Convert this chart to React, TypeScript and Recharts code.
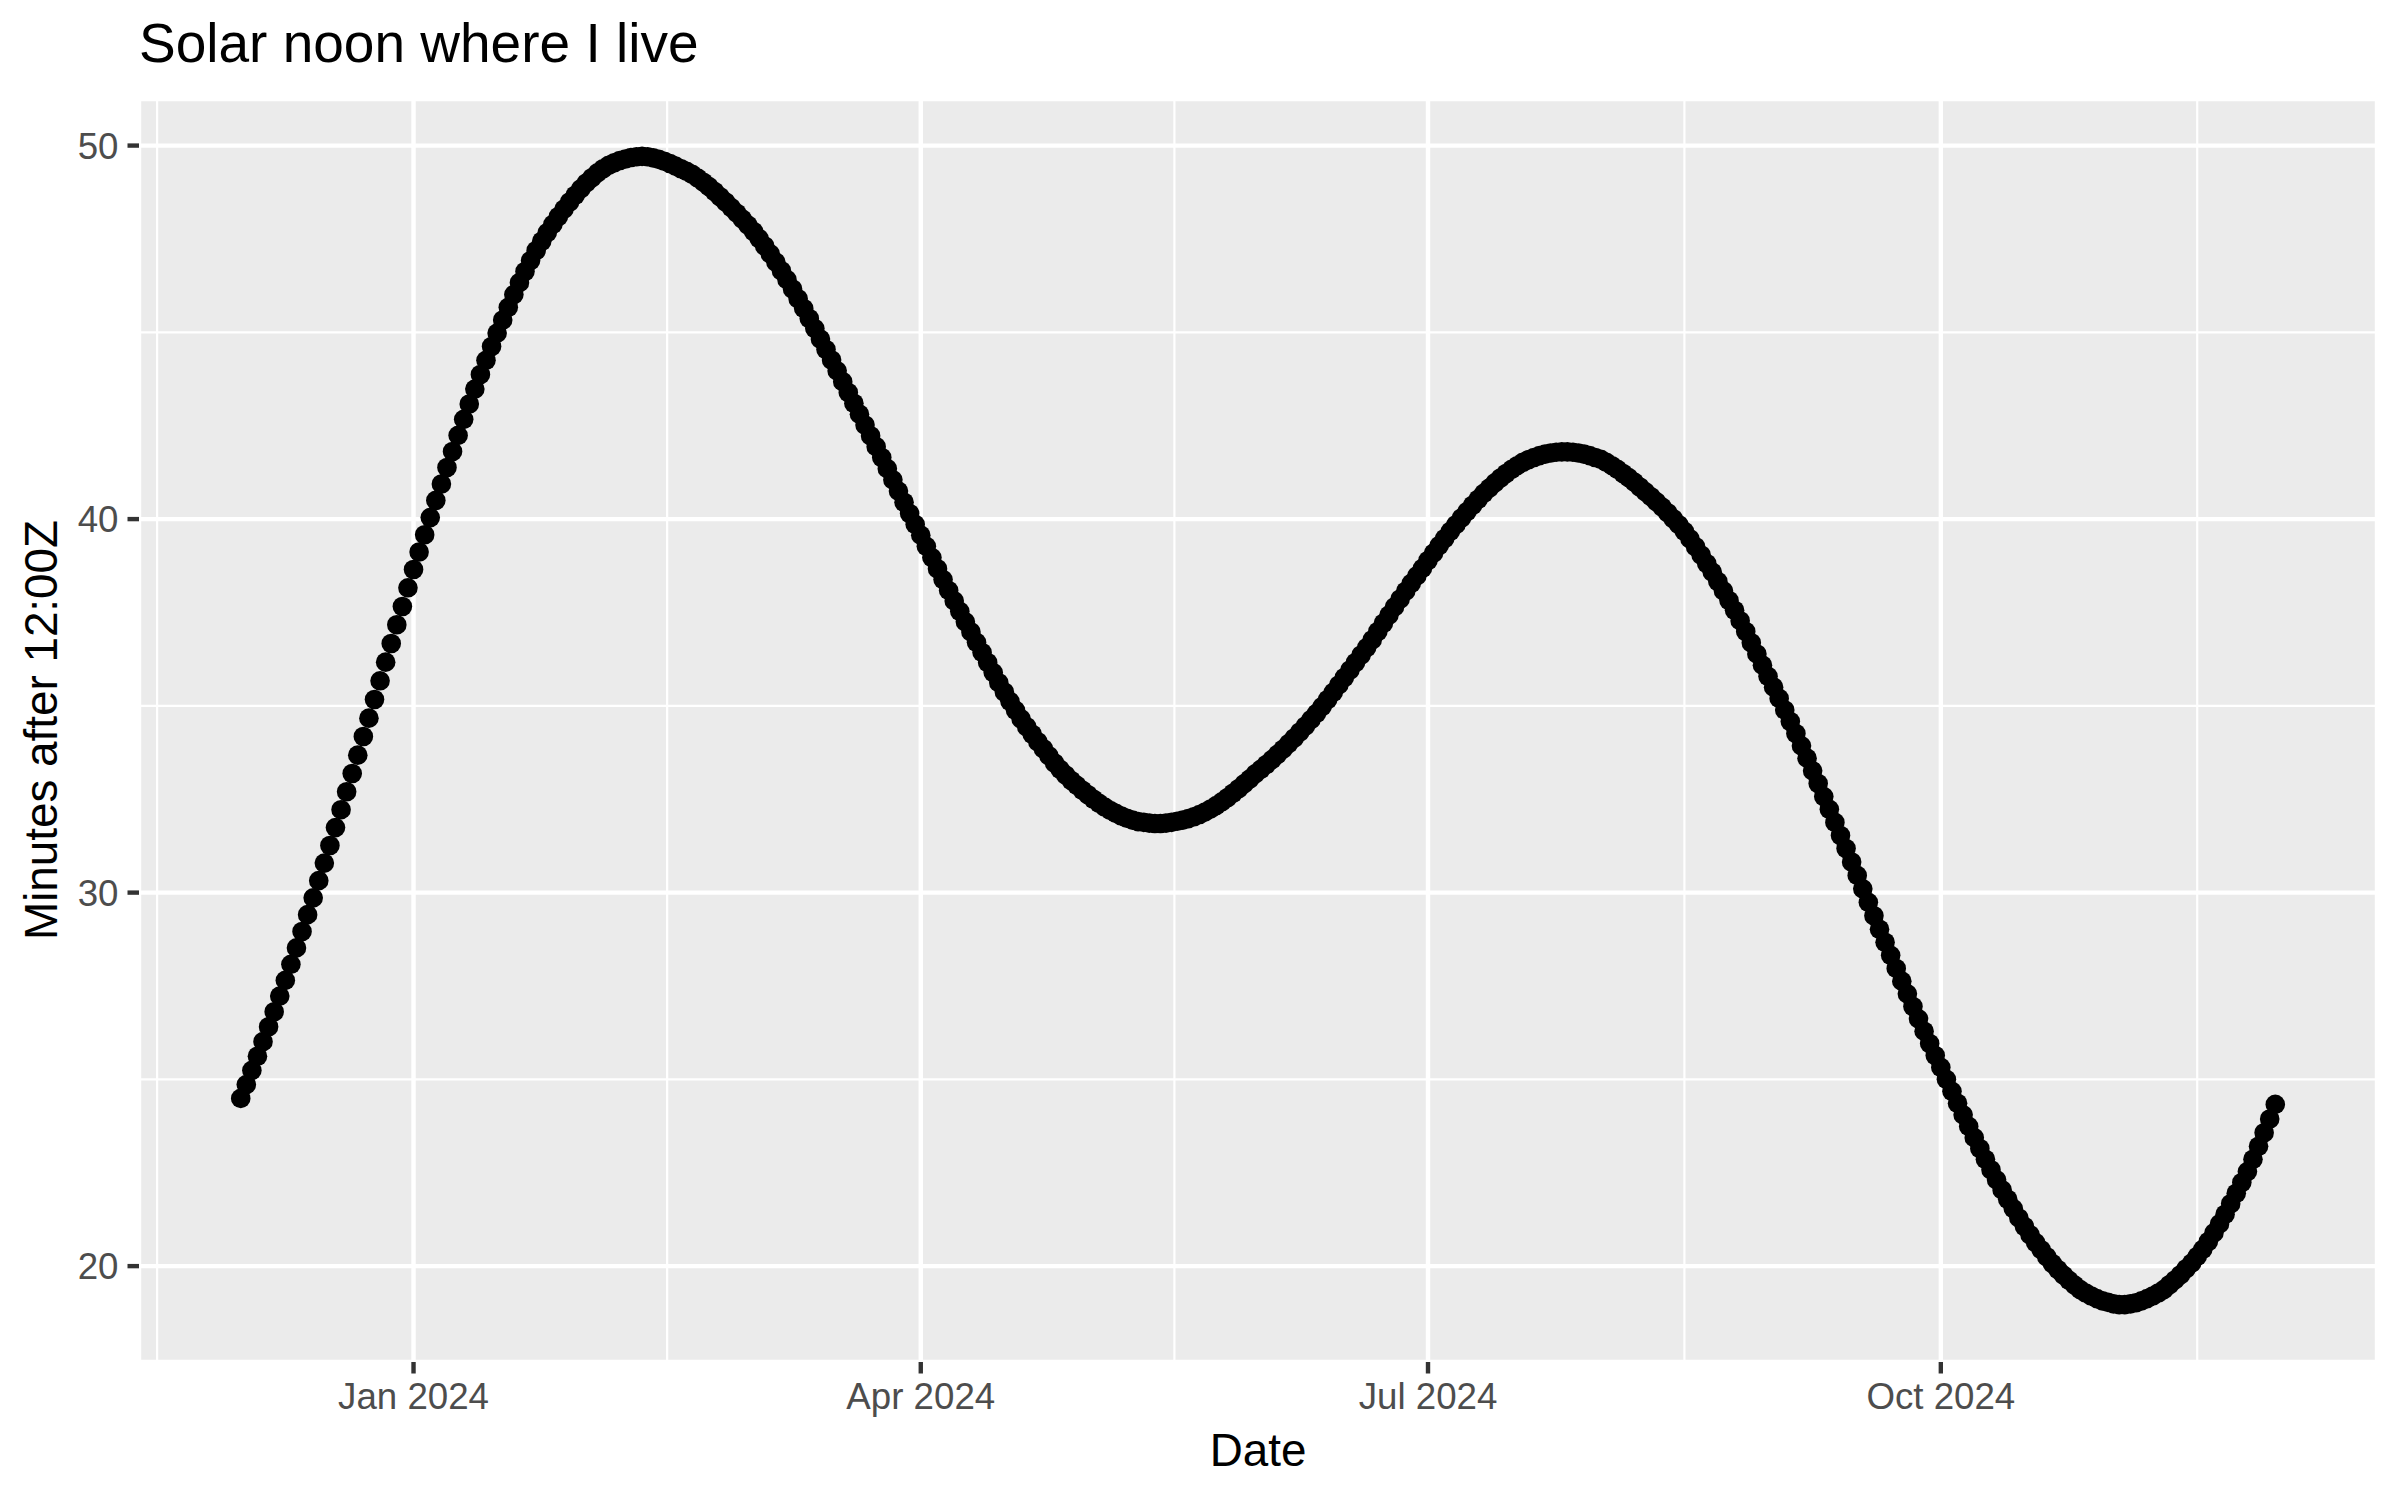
import React from 'react';
import { ScatterChart, Scatter, XAxis, YAxis, CartesianGrid, ReferenceLine } from 'recharts';

// minutes after 12:00Z of local solar noon, one value per day
const dec2023 = [24.49, 24.86, 25.24, 25.62, 26.01, 26.41, 26.81, 27.23, 27.65, 28.08, 28.52, 28.96, 29.41, 29.86, 30.32, 30.79, 31.26, 31.74, 32.22, 32.70, 33.19, 33.68, 34.18, 34.67, 35.17, 35.67, 36.17, 36.67, 37.17, 37.66, 38.16];
const jan2024 = [38.65, 39.12, 39.58, 40.04, 40.50, 40.94, 41.38, 41.81, 42.24, 42.67, 43.08, 43.48, 43.87, 44.25, 44.62, 44.98, 45.33, 45.67, 46.01, 46.33, 46.63, 46.92, 47.19, 47.44, 47.67, 47.89, 48.10, 48.30, 48.49, 48.67, 48.84];
const feb2024 = [49.00, 49.14, 49.27, 49.38, 49.47, 49.54, 49.60, 49.64, 49.68, 49.70, 49.71, 49.70, 49.67, 49.63, 49.58, 49.52, 49.45, 49.38, 49.31, 49.23, 49.13, 49.02, 48.90, 48.77, 48.63, 48.49, 48.34, 48.19, 48.03];
const mar2024 = [47.87, 47.70, 47.51, 47.31, 47.10, 46.88, 46.65, 46.41, 46.16, 45.90, 45.64, 45.37, 45.10, 44.82, 44.54, 44.26, 43.97, 43.68, 43.39, 43.10, 42.81, 42.52, 42.23, 41.94, 41.65, 41.35, 41.05, 40.75, 40.45, 40.15, 39.86];
const apr2024 = [39.57, 39.27, 38.97, 38.67, 38.38, 38.09, 37.81, 37.53, 37.25, 36.98, 36.70, 36.43, 36.16, 35.89, 35.62, 35.37, 35.12, 34.88, 34.65, 34.44, 34.24, 34.04, 33.85, 33.66, 33.47, 33.30, 33.15, 33.00, 32.87, 32.74];
const may2024 = [32.62, 32.50, 32.39, 32.29, 32.20, 32.12, 32.05, 31.99, 31.94, 31.90, 31.88, 31.86, 31.85, 31.85, 31.86, 31.88, 31.91, 31.94, 31.98, 32.03, 32.09, 32.16, 32.24, 32.33, 32.43, 32.54, 32.66, 32.78, 32.91, 33.04, 33.18];
const jun2024 = [33.30, 33.43, 33.56, 33.70, 33.84, 33.99, 34.14, 34.30, 34.46, 34.63, 34.80, 34.98, 35.17, 35.36, 35.56, 35.76, 35.96, 36.16, 36.36, 36.56, 36.77, 36.99, 37.21, 37.43, 37.65, 37.86, 38.07, 38.28, 38.48, 38.68];
const jul2024 = [38.89, 39.09, 39.29, 39.48, 39.67, 39.85, 40.03, 40.20, 40.37, 40.53, 40.69, 40.83, 40.97, 41.10, 41.22, 41.33, 41.43, 41.52, 41.59, 41.65, 41.70, 41.74, 41.77, 41.79, 41.80, 41.80, 41.79, 41.77, 41.74, 41.70, 41.65];
const aug2024 = [41.60, 41.52, 41.43, 41.33, 41.22, 41.11, 40.99, 40.86, 40.73, 40.60, 40.46, 40.32, 40.17, 40.01, 39.85, 39.67, 39.47, 39.26, 39.04, 38.81, 38.58, 38.33, 38.08, 37.82, 37.56, 37.28, 36.99, 36.69, 36.39, 36.09, 35.79];
const sep2024 = [35.50, 35.20, 34.89, 34.58, 34.26, 33.93, 33.60, 33.26, 32.92, 32.57, 32.23, 31.88, 31.53, 31.18, 30.82, 30.46, 30.10, 29.74, 29.38, 29.02, 28.67, 28.32, 27.97, 27.63, 27.29, 26.95, 26.62, 26.29, 25.96, 25.64];
const oct2024 = [25.32, 25.00, 24.68, 24.36, 24.05, 23.74, 23.44, 23.15, 22.86, 22.58, 22.31, 22.04, 21.79, 21.54, 21.29, 21.06, 20.84, 20.63, 20.44, 20.25, 20.07, 19.91, 19.76, 19.62, 19.49, 19.37, 19.28, 19.20, 19.13, 19.07, 19.03];
const nov2024 = [18.99, 18.97, 18.97, 18.99, 19.02, 19.07, 19.13, 19.20, 19.28, 19.37, 19.50, 19.63, 19.77, 19.93, 20.08, 20.26, 20.45, 20.66, 20.89, 21.13, 21.39, 21.67, 21.95, 22.24, 22.53, 22.86, 23.21, 23.57, 23.94, 24.33];

const months: [number, number, number[]][] = [
    [2023, 11, dec2023],
    [2024, 0, jan2024],
    [2024, 1, feb2024],
    [2024, 2, mar2024],
    [2024, 3, apr2024],
    [2024, 4, may2024],
    [2024, 5, jun2024],
    [2024, 6, jul2024],
    [2024, 7, aug2024],
    [2024, 8, sep2024],
    [2024, 9, oct2024],
    [2024, 10, nov2024],
];

const majorDates = [Date.UTC(2024, 0, 1), Date.UTC(2024, 3, 1), Date.UTC(2024, 6, 1), Date.UTC(2024, 9, 1)];
const minorDates = [Date.UTC(2023, 10, 16), Date.UTC(2024, 1, 15, 12), Date.UTC(2024, 4, 16, 12), Date.UTC(2024, 7, 16), Date.UTC(2024, 10, 16)];
const yTicks = [20, 30, 40, 50];
const yMinor = [25, 35, 45];
const monthNames = ['Jan', 'Feb', 'Mar', 'Apr', 'May', 'Jun', 'Jul', 'Aug', 'Sep', 'Oct', 'Nov', 'Dec'];

const DAY = 86400000;
const FONT = '"Liberation Sans", Arial, Helvetica, sans-serif';

const points = months.flatMap(([y, m, vals]) =>
    vals.map((v, i) => ({ t: Date.UTC(y, m, 1) + i * DAY, v }))
);

const expand = (lo: number, hi: number): [number, number] => {
    const pad = (hi - lo) * 0.05;
    return [lo - pad, hi + pad];
};

const ts = points.map(p => p.t);
const vs = points.map(p => p.v);
const xDomain = expand(Math.min(...ts), Math.max(...ts));
const yDomain = expand(Math.min(...vs), Math.max(...vs));

const fmtDate = (t: number) => {
    const d = new Date(t);
    return `${monthNames[d.getUTCMonth()]} ${d.getUTCFullYear()}`;
};

const Dot = (props: any) => <circle cx={props.cx} cy={props.cy} r={9.8} fill="#000000" />;

const App: React.FC = () => {
    return (
        <div style={{ position: 'relative', width: 2400, height: 1500, background: '#ffffff' }}>
            <style>{'body { margin: 0; }'}</style>
            <ScatterChart width={2400} height={1500} margin={{ top: 99, right: 23, bottom: 0, left: 0 }}>
                <CartesianGrid fill="#EBEBEB" stroke="#FFFFFF" strokeWidth={4.4} />
                {yMinor.map(y => (
                    <ReferenceLine key={`ym${y}`} y={y} stroke="#FFFFFF" strokeWidth={2.2} />
                ))}
                {minorDates.map(x => (
                    <ReferenceLine key={`xm${x}`} x={x} stroke="#FFFFFF" strokeWidth={2.2} />
                ))}
                <XAxis
                    dataKey="t"
                    type="number"
                    domain={xDomain}
                    allowDataOverflow
                    ticks={majorDates}
                    tickFormatter={fmtDate}
                    height={138}
                    axisLine={false}
                    tickSize={11.5}
                    tickMargin={9}
                    tickLine={{ stroke: '#333333', strokeWidth: 4.4 }}
                    tick={{ fontSize: 36.7, fill: '#4D4D4D', fontFamily: FONT }}
                />
                <YAxis
                    dataKey="v"
                    type="number"
                    domain={yDomain}
                    allowDataOverflow
                    ticks={yTicks}
                    width={139}
                    axisLine={false}
                    tickSize={11.5}
                    tickMargin={9}
                    tickLine={{ stroke: '#333333', strokeWidth: 4.4 }}
                    tick={{ fontSize: 36.7, fill: '#4D4D4D', fontFamily: FONT }}
                />
                <Scatter data={points} shape={Dot} isAnimationActive={false} />
            </ScatterChart>
            <svg
                width={2400}
                height={1500}
                style={{ position: 'absolute', left: 0, top: 0, pointerEvents: 'none' }}
            >
                <text x={139} y={62} fontSize={55} fontFamily={FONT} fill="#000000">
                    Solar noon where I live
                </text>
                <text x={1258} y={1466} fontSize={45.8} fontFamily={FONT} fill="#000000" textAnchor="middle">
                    Date
                </text>
                <text
                    x={57}
                    y={730}
                    fontSize={45.8}
                    fontFamily={FONT}
                    fill="#000000"
                    textAnchor="middle"
                    transform="rotate(-90 57 730)"
                >
                    Minutes after 12:00Z
                </text>
            </svg>
        </div>
    );
};

export default App;
